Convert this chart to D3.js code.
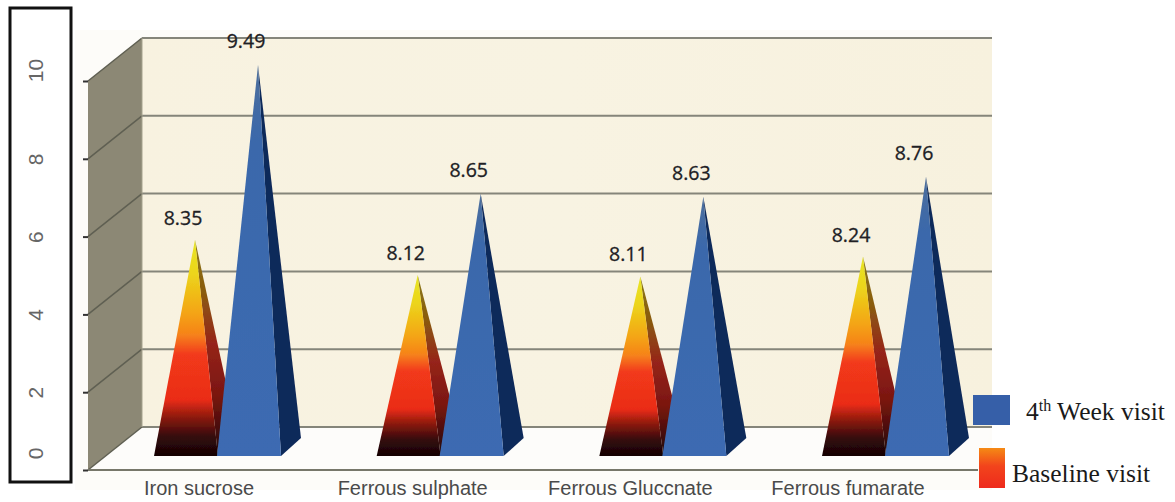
<!DOCTYPE html>
<html lang="en">
<head>
<meta charset="utf-8">
<title>Hemoglobin by iron preparation</title>
<script src="https://d3js.org/d3.v7.min.js"></script>
<style>
  html, body { margin: 0; padding: 0; background: #fff; }
  svg { display: block; }
  .cat { font: 20px "Liberation Sans", sans-serif; fill: #4a4a4a; text-anchor: middle; }
  .val { font: 19.5px "Open Sans", sans-serif; fill: #202024; stroke: #202024; stroke-width: 0.3; text-anchor: middle; }
  .leg { font: 25.5px "Liberation Serif", serif; fill: #1a1a1a; }
  .axis text { font: 21px "Liberation Sans", sans-serif; fill: #666; }
</style>
</head>
<body>
<div id="chart"></div>
<script>
const categories = ["Iron sucrose", "Ferrous sulphate", "Ferrous Gluccnate", "Ferrous fumarate"];
const baseline = [8.35, 8.12, 8.11, 8.24];
const week4 = [9.49, 8.65, 8.63, 8.76];
const axisTicks = [0, 2, 4, 6, 8, 10];

const W = 1175, H = 502;
const dx = 54, dy = -43;          // depth of the box

const svg = d3.select("#chart").append("svg").attr("width", W).attr("height", H);
const defs = svg.append("defs");

function gradient(id, stops) {
  const g = defs.append("linearGradient").attr("id", id)
    .attr("x1", 0).attr("y1", 0).attr("x2", 0).attr("y2", 1);
  stops.forEach(s => g.append("stop").attr("offset", s[0]).attr("stop-color", s[1]));
}
gradient("hot", [[0, "#e8e624"], [0.16, "#ecd41c"], [0.34, "#f4a412"], [0.44, "#f6821a"],
  [0.53, "#f23a1a"], [0.74, "#ea2c18"], [0.82, "#8e1a0c"], [0.91, "#35090a"], [1, "#140404"]]);
gradient("hotSide", [[0, "#8a7a14"], [0.25, "#8a5a10"], [0.48, "#96241a"], [0.72, "#7a1610"], [1, "#1c0505"]]);
gradient("legendHot", [[0, "#f58a14"], [0.45, "#f2441c"], [1, "#ee2a1c"]]);
gradient("blueFront", [[0, "#4d6f9c"], [0.2, "#3a68ab"], [1, "#3c6bb2"]]);

const wallGrad = defs.append("linearGradient").attr("id", "wall");
[[0, "#f8f2e0"], [0.5, "#f8f3e2"], [1, "#f7f1de"]].forEach(s =>
  wallGrad.append("stop").attr("offset", s[0]).attr("stop-color", s[1]));

defs.append("filter").attr("id", "soft").append("feGaussianBlur").attr("stdDeviation", 0.5);

// value axis printed on the side wall
const y = d3.scaleLinear().domain([0, 10]).range([470, 81]);
// apexes do not follow the printed axis, so they get their own scale
const apexY = d3.scaleLinear().domain([7.01, 9.49]).range([445, 65]);
const xGroup = d3.scalePoint().domain(categories).range([217, 885]);

const chart = svg.append("g").attr("filter", "url(#soft)");

chart.append("rect").attr("x", 75).attr("y", 30).attr("width", 917).attr("height", 460).attr("fill", "#fdfcf9");

chart.append("rect").attr("x", 88 + dx).attr("y", y(10) + dy)
  .attr("width", 992 - 88 - dx).attr("height", y(0) - y(10))
  .attr("fill", "url(#wall)");

chart.append("polygon")
  .attr("points", [[88, y(10)], [88 + dx, y(10) + dy], [88 + dx, y(0) + dy], [88, y(0)]].join(" "))
  .attr("fill", "#8c8874");

chart.append("polygon")
  .attr("points", [[88, y(0)], [88 + dx, y(0) + dy], [992, y(0) + dy], [978, y(0)]].join(" "))
  .attr("fill", "#fdfcfa");

// grid on back wall and side wall
chart.selectAll(".grid").data(axisTicks).join("line")
  .attr("x1", 88 + dx).attr("x2", 992)
  .attr("y1", d => y(d) + dy).attr("y2", d => y(d) + dy)
  .attr("stroke", "#85857a").attr("stroke-width", 2);

chart.selectAll(".depth").data(axisTicks).join("line")
  .attr("x1", 88).attr("x2", 88 + dx)
  .attr("y1", d => y(d)).attr("y2", d => y(d) + dy)
  .attr("stroke", "#5f5f52").attr("stroke-width", 1.5);

chart.append("line").attr("x1", 88 + dx).attr("x2", 88 + dx)
  .attr("y1", y(10) + dy).attr("y2", y(0) + dy).attr("stroke", "#a5a28e");
chart.append("line").attr("x1", 88).attr("x2", 978)
  .attr("y1", y(0)).attr("y2", y(0)).attr("stroke", "#77776a").attr("stroke-width", 2);

// pyramids
const floorY = 456, halfW = 32, sideX = 20, sideY = -18;

function pyramid(cx, value, front, side) {
  const top = apexY(value), ax = cx + 9;
  chart.append("polygon")
    .attr("points", [[cx + halfW, floorY], [cx + halfW + sideX, floorY + sideY], [ax, top]].join(" "))
    .attr("fill", side);
  chart.append("polygon")
    .attr("points", [[cx - halfW, floorY], [cx + halfW, floorY], [ax, top]].join(" "))
    .attr("fill", front);
}

categories.forEach((c, i) => {
  pyramid(xGroup(c) - 31, baseline[i], "url(#hot)", "url(#hotSide)");
  pyramid(xGroup(c) + 32, week4[i], "url(#blueFront)", "#10295a");
});

// value labels
const labels = svg.append("g");
categories.forEach((c, i) => {
  labels.append("text").attr("class", "val")
    .attr("x", xGroup(c) - 34).attr("y", apexY(baseline[i]) - 15).text(baseline[i].toFixed(2));
  labels.append("text").attr("class", "val")
    .attr("x", xGroup(c) + 29).attr("y", apexY(week4[i]) - 17).text(week4[i].toFixed(2));
});

// category names are not centred under their groups in the picture
const catShift = { "Iron sucrose": -18, "Ferrous sulphate": -27, "Ferrous Gluccnate": -32, "Ferrous fumarate": -37 };
svg.append("g").selectAll("text").data(categories).join("text")
  .attr("class", "cat")
  .attr("x", c => xGroup(c) + catShift[c])
  .attr("y", 495)
  .text(c => c);

// axis with turned labels, the 0 and 10 sit further inside the box
const axis = d3.axisLeft(y).tickValues(axisTicks).tickSize(5).tickPadding(0);
const axisG = svg.append("g").attr("class", "axis").attr("transform", "translate(88,0)").call(axis);
axisG.select(".domain").remove();
axisG.selectAll(".tick line").attr("stroke", "#333").attr("stroke-width", 2);
axisG.selectAll(".tick text")
  .attr("text-anchor", "middle")
  .attr("dy", 0)
  .attr("x", 0).attr("y", 0)
  .attr("transform", d => `translate(-45,${d === 0 ? -17 : d === 10 ? -11 : 0}) rotate(-90)`);

svg.append("rect").attr("x", 10).attr("y", 8).attr("width", 61).attr("height", 474)
  .attr("fill", "none").attr("stroke", "#111").attr("stroke-width", 3);

// legend
svg.append("rect").attr("x", 973).attr("y", 395).attr("width", 37).attr("height", 30).attr("fill", "#365fa8");
svg.append("rect").attr("x", 979).attr("y", 448).attr("width", 26).attr("height", 40).attr("fill", "url(#legendHot)");

const wk = svg.append("text").attr("class", "leg").attr("x", 1026).attr("y", 420);
wk.append("tspan").text("4");
wk.append("tspan").attr("dy", -9).attr("font-size", 16).text("th");
wk.append("tspan").attr("dy", 9).text(" Week visit");
svg.append("text").attr("class", "leg").attr("x", 1012).attr("y", 482).text("Baseline visit");
</script>
</body>
</html>
